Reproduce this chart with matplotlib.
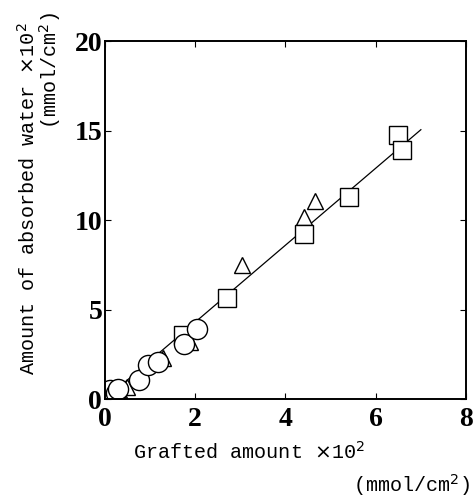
# grafted amount vs absorbed water

import matplotlib.pyplot as plt
import numpy as np

# squares
sq_x = np.array([1.72, 2.71, 4.40, 5.41, 6.50, 6.59])
sq_y = np.array([3.57, 5.65, 9.2, 11.3, 14.75, 13.9])
# triangles
tri_x = np.array([0.30, 0.48, 1.29, 1.88, 3.04, 4.40, 4.66])
tri_y = np.array([0.5, 0.7, 2.3, 3.2, 7.5, 10.2, 11.06])
# circles
cir_x = np.array([0.10, 0.24, 0.28, 0.76, 0.95, 1.18, 1.75, 2.03])
cir_y = np.array([0.5, 0.33, 0.55, 1.07, 1.9, 2.07, 3.1, 3.9])
# fitted line
fit_x = np.array([0.0, 7.0])
fit_y = np.array([0.0, 15.05])

xticks = [0, 2, 4, 6, 8]
yticks = [0, 5, 10, 15, 20]

mono = 'Liberation Mono'
plt.rcParams['mathtext.fontset'] = 'dejavusans'

fig = plt.figure(figsize=(4.74, 4.97), dpi=100)
ax = fig.add_axes([0.2215, 0.197, 0.7616, 0.7203])

ax.plot(fit_x, fit_y, color='black', lw=0.9, zorder=1)
mk = dict(mfc='white', mec='black', mew=1.0, ls='none', zorder=2)
ax.plot(tri_x, tri_y, marker='^', ms=12, **mk)
ax.plot(sq_x, sq_y, marker='s', ms=12.5, **mk)
ax.plot(cir_x, cir_y, marker='o', ms=14.5, **mk)

ax.set_xlim(0, 8)
ax.set_ylim(0, 20)
ax.set_xticks(xticks)
ax.set_yticks(yticks)
ax.tick_params(direction='in', length=4, width=0.8, top=True, right=True)
ax.tick_params(axis='x', pad=6)
ax.tick_params(axis='y', pad=2)
for lab in ax.get_xticklabels() + ax.get_yticklabels():
    lab.set_family('Liberation Serif')
    lab.set_fontweight('bold')
    lab.set_fontsize(20)
for s in ax.spines.values():
    s.set_linewidth(1.4)

fig.text(0.058, 0.60, r'Amount of absorbed water $\times$10$^2$', rotation=90,
         family=mono, fontsize=14.5, ha='center', va='center')
fig.text(0.106, 0.975, '(mmol/cm$^2$)', rotation=90, family=mono, fontsize=14.5,
         ha='center', va='top')
fig.text(0.28, 0.09, r'Grafted amount $\times$10$^2$', family=mono, fontsize=14.5,
         ha='left', va='center')
fig.text(0.992, 0.025, '(mmol/cm$^2$)', family=mono, fontsize=14.5,
         ha='right', va='center')

fig.savefig('out.png', dpi=100)
